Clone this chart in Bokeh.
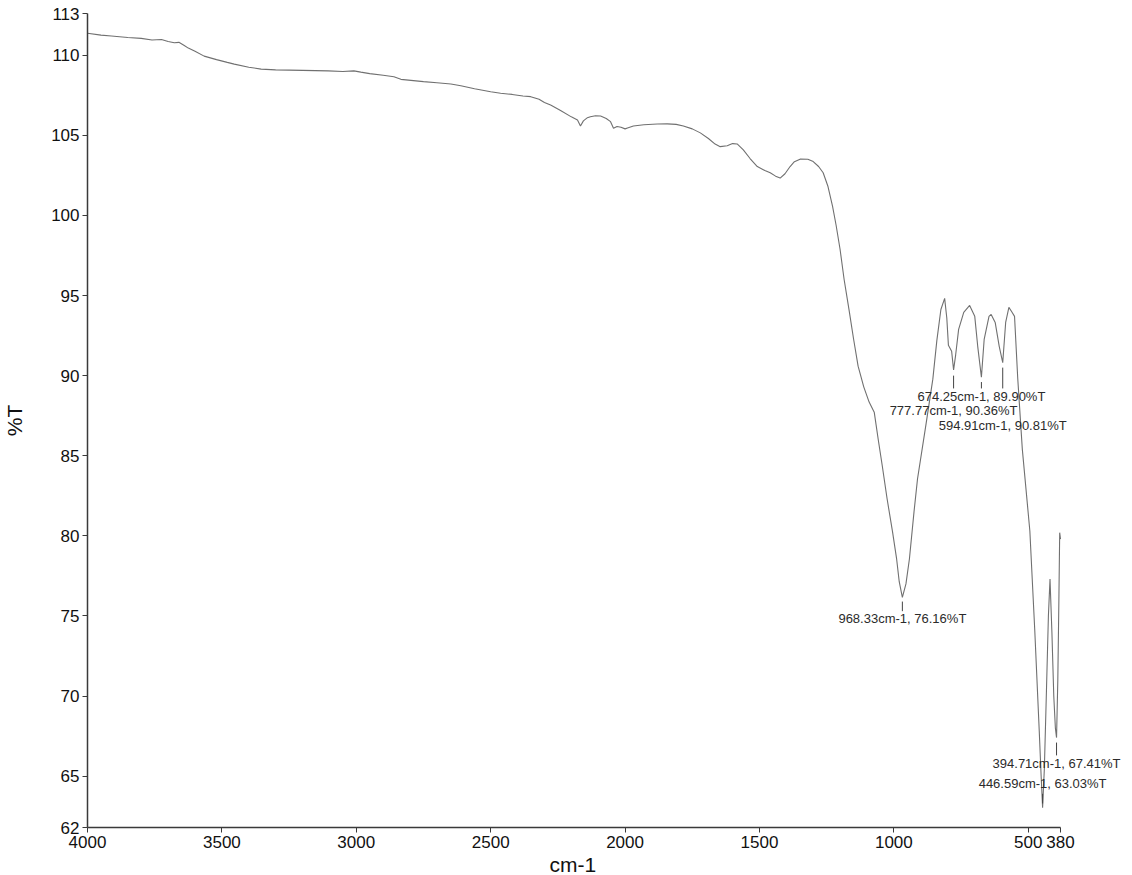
from bokeh.plotting import figure
from bokeh.models import ColumnDataSource, Label, Range1d, FixedTicker, Title
from bokeh.embed import file_html
from bokeh.resources import INLINE

# ---- spectrum ----
wavenumber = [4000, 3950, 3911, 3850, 3800, 3760, 3725, 3700, 3677, 3660, 3640, 3625, 3600,
              3566, 3520, 3480, 3454, 3400, 3354, 3300, 3200, 3105, 3050, 3009, 2983, 2950,
              2900, 2860, 2834, 2750, 2700, 2648, 2611, 2560, 2500, 2463, 2420, 2380, 2351,
              2320, 2300, 2277, 2240, 2200, 2177, 2166, 2155, 2140, 2129, 2110, 2091, 2070,
              2054, 2043, 2030, 2015, 2000, 1991, 1969, 1930, 1880, 1843, 1810, 1783, 1750,
              1720, 1690, 1665, 1646, 1620, 1600, 1583, 1560, 1535, 1508, 1480, 1460, 1440,
              1423, 1405, 1386, 1370, 1349, 1320, 1300, 1280, 1263, 1245, 1228, 1215, 1200,
              1185, 1167, 1150, 1133, 1112, 1092, 1073, 1058, 1043, 1025, 1005, 990, 980,
              968.33, 955, 942, 925, 912, 880, 855, 840, 825, 811, 803, 797, 785, 777.77,
              770, 759, 740, 718, 699, 688, 674.25, 664, 646, 638, 623, 608, 594.91, 584,
              572, 562, 551, 539, 522, 494, 476, 459, 452, 446.59, 440, 432, 425, 419, 412,
              405, 399, 394.71, 390, 386, 383, 380]
transmittance = [111.37, 111.25, 111.20, 111.10, 111.05, 110.95, 110.98, 110.85, 110.77, 110.80,
                 110.60, 110.44, 110.25, 109.94, 109.72, 109.55, 109.44, 109.25, 109.13, 109.08,
                 109.05, 109.02, 108.98, 109.02, 108.94, 108.85, 108.75, 108.65, 108.49, 108.35,
                 108.28, 108.20, 108.09, 107.90, 107.72, 107.62, 107.55, 107.45, 107.41, 107.25,
                 107.05, 106.89, 106.55, 106.15, 105.96, 105.58, 105.90, 106.10, 106.16, 106.22,
                 106.20, 106.05, 105.85, 105.44, 105.55, 105.50, 105.40, 105.46, 105.58, 105.66,
                 105.70, 105.71, 105.68, 105.58, 105.40, 105.15, 104.80, 104.45, 104.29, 104.35,
                 104.48, 104.46, 104.09, 103.55, 103.05, 102.80, 102.66, 102.45, 102.33, 102.60,
                 103.05, 103.35, 103.51, 103.50, 103.36, 103.05, 102.66, 101.80, 100.56, 99.40,
                 97.87, 96.00, 94.13, 92.30, 90.59, 89.30, 88.35, 87.72, 86.00, 84.36, 82.30,
                 80.26, 78.60, 77.14, 76.16, 77.00, 78.57, 81.50, 83.55, 87.00, 89.78, 92.20,
                 94.13, 94.82, 93.60, 91.89, 91.52, 90.36, 91.30, 92.89, 93.95, 94.38, 93.70,
                 91.83, 89.90, 92.26, 93.70, 93.82, 93.32, 91.83, 90.81, 93.32, 94.26, 94.00,
                 93.70, 89.80, 85.40, 80.30, 74.20, 67.80, 65.00, 63.03, 65.50, 70.50, 75.00,
                 77.30, 74.00, 70.00, 68.00, 67.41, 71.00, 76.00, 80.20, 79.80]

# ---- labelled peaks ----
peak_wn = [968.33, 777.77, 674.25, 594.91, 446.59, 394.71]
peak_T = [76.16, 90.36, 89.90, 90.81, 63.03, 67.41]
label_T = [74.85, 87.85, 88.72, 86.91, 64.57, 65.82]
leader_from = [75.9, 90.0, 89.6, 90.5, 63.3, 67.1]
leader_to = [75.3, 89.2, 89.2, 89.2, 63.9, 66.3]

# ---- axes ----
axis_bounds = (380, 4000)          # the drawn wavenumber axis
x_start, x_end = 4000, 127         # view range: extra room on the right for peak labels
y_start, y_end = 61.8, 112.6
x_ticks = [4000, 3500, 3000, 2500, 2000, 1500, 1000, 500, 380]
y_ticks = [61.8, 65, 70, 75, 80, 85, 90, 95, 100, 105, 110, 112.6]
y_tick_labels = ["62", "65", "70", "75", "80", "85", "90", "95", "100", "105", "110", "113"]

FONT = "Liberation Sans"
INK = "#2b2b2b"

p = figure(width=1132, height=875, output_backend="svg", toolbar_location=None,
           x_range=Range1d(x_start, x_end), y_range=Range1d(y_start, y_end),
           min_border_left=86, min_border_top=13, min_border_right=4, min_border_bottom=0)
p.outline_line_color = None
p.xgrid.visible = False
p.ygrid.visible = False
p.background_fill_color = "white"
p.border_fill_color = "white"

p.line(wavenumber, transmittance, line_color="#707070", line_width=1.1)

src = ColumnDataSource(dict(x=peak_wn, y0=leader_from, y1=leader_to))
p.segment(x0="x", y0="y0", x1="x", y1="y1", source=src, line_color="#444444", line_width=1)

for w, t, ly in zip(peak_wn, peak_T, label_T):
    p.add_layout(Label(x=w, y=ly, text=f"{w:.2f}cm-1, {t:.2f}%T", text_align="center",
                       text_baseline="middle", text_font=FONT, text_font_size="13px",
                       text_color=INK))

for ax in (p.xaxis[0], p.yaxis[0]):
    ax.axis_line_color = "#3a3a3a"
    ax.axis_line_width = 1.5
    ax.major_tick_line_color = "#3a3a3a"
    ax.major_tick_out = 5
    ax.major_tick_in = 0
    ax.minor_tick_line_color = None
    ax.major_label_text_font = FONT
    ax.major_label_text_font_size = "17px"
    ax.major_label_text_color = "#111111"
    ax.axis_label_text_font = FONT
    ax.axis_label_text_font_size = "21px"
    ax.axis_label_text_font_style = "normal"
    ax.axis_label_text_color = "#111111"

p.xaxis.ticker = FixedTicker(ticks=x_ticks)
p.xaxis.bounds = axis_bounds
p.xaxis.major_label_standoff = 3

# x-axis title, placed under the middle of the drawn axis (not the wider frame)
p.add_layout(Title(text="cm-1", align="left", offset=462, standoff=0,
                   text_font=FONT, text_font_size="21px", text_font_style="normal",
                   text_color="#111111"), "below")

p.yaxis.ticker = FixedTicker(ticks=y_ticks)
p.yaxis.major_label_overrides = {float(t): s for t, s in zip(y_ticks, y_tick_labels)}
p.yaxis.axis_label = "%T"
p.yaxis.major_label_standoff = 3
p.yaxis.axis_label_standoff = 22

open("out.html", "w").write(file_html(p, INLINE))
